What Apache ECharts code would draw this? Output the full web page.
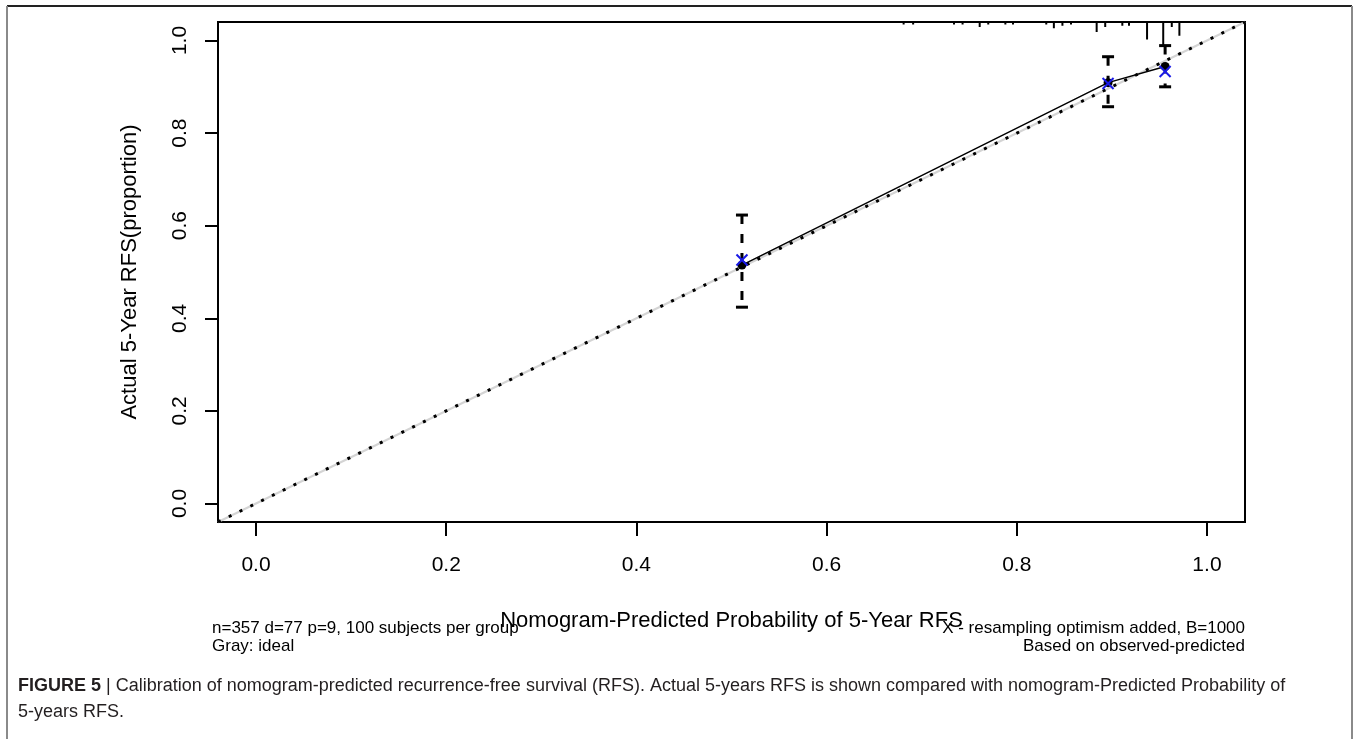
<!DOCTYPE html>
<html>
<head>
<meta charset="utf-8">
<script src="https://cdn.jsdelivr.net/npm/echarts@6/dist/echarts.min.js"></script>
<style>
  html, body { margin: 0; padding: 0; background: #fff; }
  #chart { width: 1357px; height: 739px; }
</style>
</head>
<body>
<div id="chart"></div>
<script>
// ---- data ----
const tickValues = [0, 0.2, 0.4, 0.6, 0.8, 1.0];
const predicted = [0.511, 0.896, 0.956];          // nomogram-predicted probability (group means)
const observed  = [0.515, 0.909, 0.944];          // actual (apparent) 5-year RFS
const corrected = [0.526, 0.907, 0.933];          // bias-corrected (X)
const ciLower   = [0.424, 0.857, 0.900];
const ciUpper   = [0.623, 0.965, 0.989];
const rugX    = [0.681, 0.691, 0.734, 0.743, 0.761, 0.770, 0.788, 0.796, 0.831, 0.839,
                 0.848, 0.857, 0.884, 0.893, 0.911, 0.918, 0.937, 0.954, 0.963, 0.971];
const rugFreq = [1, 1, 1, 1, 2, 1, 1, 1, 1, 2.5,
                 1.5, 1, 4, 2, 1.5, 1.5, 7, 10, 2, 5.5];
const idealLine = [[-0.04, -0.04], [1.04, 1.04]];

const xTitle = 'Nomogram-Predicted Probability of 5-Year RFS';
const yTitle = 'Actual 5-Year RFS(proportion)';
const subLeft1 = 'n=357 d=77 p=9, 100 subjects per group';
const subLeft2 = 'Gray: ideal';
const subRight1 = 'X - resampling optimism added, B=1000';
const subRight2 = 'Based on observed-predicted';
const captionBold = 'FIGURE 5';
const captionLine1 = ' | Calibration of nomogram-predicted recurrence-free survival (RFS). Actual 5-years RFS is shown compared with nomogram-Predicted Probability of';
const captionLine2 = '5-years RFS.';

// ---- chart ----
const FONT = '"Liberation Sans", Arial, Helvetica, sans-serif';
const AXMIN = -0.04, AXMAX = 1.04;
const chart = echarts.init(document.getElementById('chart'), null, { renderer: 'canvas' });

const pointData = predicted.map((p, i) => [p, observed[i]]);
const corrData = predicted.map((p, i) => [p, corrected[i]]);
const ciData = predicted.map((p, i) => [p, ciLower[i], ciUpper[i]]);
const rugData = rugX.map((x, i) => [x, rugFreq[i]]);

const option = {
  animation: false,
  backgroundColor: '#fff',
  grid: {
    left: 218, top: 22, width: 1027, height: 500,
    show: true, borderColor: '#000', borderWidth: 2, backgroundColor: 'transparent'
  },
  xAxis: {
    type: 'value', min: AXMIN, max: AXMAX,
    name: xTitle, nameLocation: 'middle', nameGap: 88,
    nameTextStyle: { fontFamily: FONT, fontSize: 22, color: '#000' },
    splitLine: { show: false },
    axisLine: { show: false, onZero: false },
    axisTick: { show: true, inside: false, length: 14, lineStyle: { color: '#000', width: 2 }, customValues: tickValues },
    axisLabel: { customValues: tickValues, formatter: v => v.toFixed(1), fontFamily: FONT, fontSize: 21, color: '#000', margin: 33 }
  },
  yAxis: {
    type: 'value', min: AXMIN, max: AXMAX,
    name: yTitle, nameLocation: 'middle', nameGap: 77,
    nameTextStyle: { fontFamily: FONT, fontSize: 22, color: '#000' },
    splitLine: { show: false },
    axisLine: { show: false, onZero: false },
    axisTick: { show: true, inside: false, length: 13, lineStyle: { color: '#000', width: 2 }, customValues: tickValues },
    axisLabel: { customValues: tickValues, formatter: v => v.toFixed(1), fontFamily: FONT, fontSize: 21, color: '#000', margin: 27, rotate: 90 }
  },
  series: [
    { // gray ideal line
      type: 'line', data: idealLine, symbol: 'none', z: 1,
      lineStyle: { color: '#d4d4d4', width: 2 }
    },
    { // dotted reference line
      type: 'line', data: idealLine, symbol: 'none', z: 2,
      lineStyle: { color: '#000', width: 3, type: [3, 9], cap: 'butt' }
    },
    { // apparent calibration line + points
      type: 'line', data: pointData, symbol: 'circle', symbolSize: 9, z: 3,
      itemStyle: { color: '#000' },
      lineStyle: { color: '#000', width: 1.5 }
    },
    { // error bars
      type: 'custom', z: 4, data: ciData, encode: { x: 0, y: [1, 2] },
      renderItem: function (params, api) {
        const top = api.coord([api.value(0), api.value(2)]);
        const bot = api.coord([api.value(0), api.value(1)]);
        const hw = 6;
        return {
          type: 'group', children: [
            { type: 'line', shape: { x1: top[0], y1: top[1], x2: bot[0], y2: bot[1] },
              style: { stroke: '#000', lineWidth: 3, lineDash: [9, 10] } },
            { type: 'line', shape: { x1: top[0] - hw, y1: top[1], x2: top[0] + hw, y2: top[1] },
              style: { stroke: '#000', lineWidth: 3 } },
            { type: 'line', shape: { x1: bot[0] - hw, y1: bot[1], x2: bot[0] + hw, y2: bot[1] },
              style: { stroke: '#000', lineWidth: 3 } }
          ]
        };
      }
    },
    { // bias-corrected X marks
      type: 'custom', z: 5, data: corrData, encode: { x: 0, y: 1 },
      renderItem: function (params, api) {
        const c = api.coord([api.value(0), api.value(1)]);
        const h = 5.5;
        return {
          type: 'group', children: [
            { type: 'line', shape: { x1: c[0] - h, y1: c[1] - h, x2: c[0] + h, y2: c[1] + h },
              style: { stroke: '#1a1ae6', lineWidth: 2 } },
            { type: 'line', shape: { x1: c[0] - h, y1: c[1] + h, x2: c[0] + h, y2: c[1] - h },
              style: { stroke: '#1a1ae6', lineWidth: 2 } }
          ]
        };
      }
    },
    { // rug / distribution of predictions at top
      type: 'custom', z: 4, data: rugData, encode: { x: 0 },
      renderItem: function (params, api) {
        const p0 = api.coord([api.value(0), AXMAX]);
        const p1 = api.coord([api.value(0), AXMAX - api.value(1) * 0.0054]);
        return { type: 'line', shape: { x1: p0[0], y1: p0[1], x2: p1[0], y2: p1[1] },
                 style: { stroke: '#000', lineWidth: 2 } };
      }
    }
  ],
  graphic: [
    { type: 'line', shape: { x1: 7, y1: 6, x2: 1352, y2: 6 }, style: { stroke: '#222', lineWidth: 2 } },
    { type: 'line', shape: { x1: 7, y1: 6, x2: 7, y2: 739 }, style: { stroke: '#8a8a8a', lineWidth: 2 } },
    { type: 'line', shape: { x1: 1352, y1: 6, x2: 1352, y2: 739 }, style: { stroke: '#8a8a8a', lineWidth: 2 } },
    { type: 'text', x: 212, y: 628, style: { text: subLeft1, font: '17px ' + FONT, fill: '#000', textAlign: 'left', textVerticalAlign: 'middle' } },
    { type: 'text', x: 212, y: 646, style: { text: subLeft2, font: '17px ' + FONT, fill: '#000', textAlign: 'left', textVerticalAlign: 'middle' } },
    { type: 'text', x: 1245, y: 628, style: { text: subRight1, font: '17px ' + FONT, fill: '#000', textAlign: 'right', textVerticalAlign: 'middle' } },
    { type: 'text', x: 1245, y: 646, style: { text: subRight2, font: '17px ' + FONT, fill: '#000', textAlign: 'right', textVerticalAlign: 'middle' } },
    { type: 'text', x: 18, y: 686, style: {
        text: '{b|' + captionBold + '}' + captionLine1,
        font: '18px ' + FONT, fill: '#231f20', textAlign: 'left', textVerticalAlign: 'middle',
        rich: { b: { fontWeight: 'bold', fontFamily: FONT, fontSize: 18, fill: '#231f20' } } } },
    { type: 'text', x: 18, y: 712, style: { text: captionLine2, font: '18px ' + FONT, fill: '#231f20', textAlign: 'left', textVerticalAlign: 'middle' } }
  ]
};
chart.setOption(option);
</script>
</body>
</html>
